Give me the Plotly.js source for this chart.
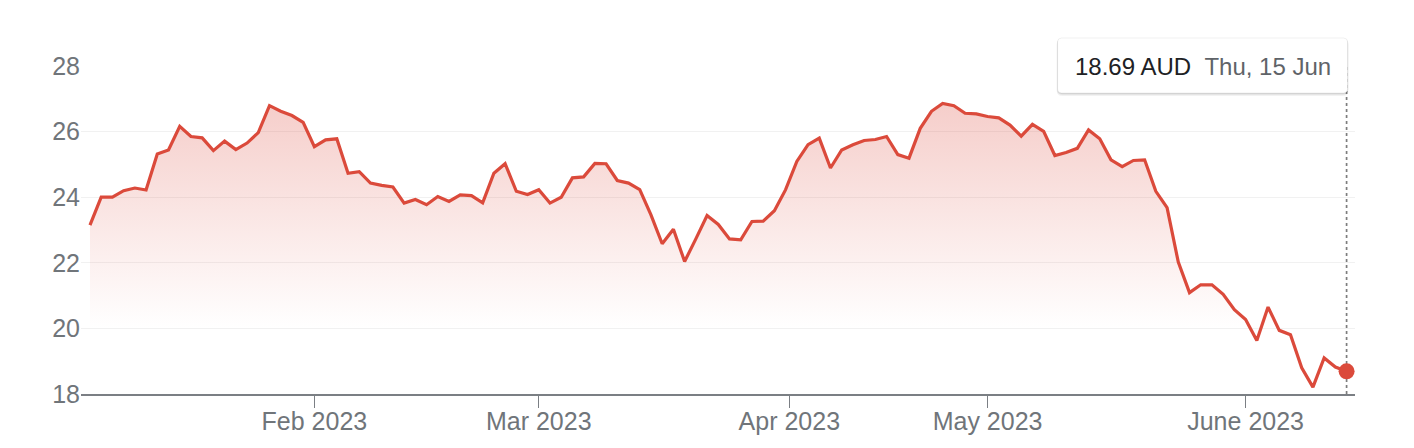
<!DOCTYPE html>
<html>
<head>
<meta charset="utf-8">
<script src="https://cdn.plot.ly/plotly-3.0.1.min.js"></script>
<style>
  html, body { margin: 0; padding: 0; background: #ffffff; }
  #chart { width: 1414px; height: 448px; }
</style>
</head>
<body>
<div id="chart"></div>
<script>
// ---- Data (ASX trading days, Jan 3 – Jun 15 2023) ----
const dates = [
  '2023-01-03','2023-01-04','2023-01-05','2023-01-06','2023-01-09','2023-01-10','2023-01-11','2023-01-12','2023-01-13',
  '2023-01-16','2023-01-17','2023-01-18','2023-01-19','2023-01-20','2023-01-23','2023-01-24','2023-01-25','2023-01-27',
  '2023-01-30','2023-01-31',
  '2023-02-01','2023-02-02','2023-02-03','2023-02-06','2023-02-07','2023-02-08','2023-02-09','2023-02-10','2023-02-13',
  '2023-02-14','2023-02-15','2023-02-16','2023-02-17','2023-02-20','2023-02-21','2023-02-22','2023-02-23','2023-02-24',
  '2023-02-27','2023-02-28',
  '2023-03-01','2023-03-02','2023-03-03','2023-03-06','2023-03-07','2023-03-08','2023-03-09','2023-03-10','2023-03-13',
  '2023-03-14','2023-03-15','2023-03-16','2023-03-17','2023-03-20','2023-03-21','2023-03-22','2023-03-23','2023-03-24',
  '2023-03-27','2023-03-28','2023-03-29','2023-03-30','2023-03-31',
  '2023-04-03','2023-04-04','2023-04-05','2023-04-06','2023-04-11','2023-04-12','2023-04-13','2023-04-14','2023-04-17',
  '2023-04-18','2023-04-19','2023-04-20','2023-04-21','2023-04-24','2023-04-26','2023-04-27','2023-04-28',
  '2023-05-01','2023-05-02','2023-05-03','2023-05-04','2023-05-05','2023-05-08','2023-05-09','2023-05-10','2023-05-11',
  '2023-05-12','2023-05-15','2023-05-16','2023-05-17','2023-05-18','2023-05-19','2023-05-22','2023-05-23','2023-05-24',
  '2023-05-25','2023-05-26','2023-05-29','2023-05-30','2023-05-31',
  '2023-06-01','2023-06-02','2023-06-05','2023-06-06','2023-06-07','2023-06-08','2023-06-09','2023-06-13','2023-06-14',
  '2023-06-15'
];

const prices = [
  23.15, 24.00, 24.00, 24.20, 24.28, 24.22, 25.32, 25.44, 26.16, 25.85,
  25.81, 25.42, 25.71, 25.45, 25.65, 25.97, 26.79, 26.62, 26.49, 26.28,
  25.54, 25.75, 25.78, 24.73, 24.78, 24.43, 24.36, 24.31, 23.82, 23.93,
  23.77, 24.02, 23.87, 24.07, 24.05, 23.83, 24.73, 25.02, 24.18, 24.08,
  24.23, 23.82, 24.00, 24.59, 24.62, 25.03, 25.02, 24.51, 24.43, 24.23,
  23.46, 22.58, 23.02, 22.04, 22.73, 23.44, 23.17, 22.73, 22.70, 23.26,
  23.27, 23.59, 24.23, 25.09, 25.60, 25.80, 24.89, 25.44, 25.60, 25.73,
  25.76, 25.85, 25.30, 25.19, 26.10, 26.62, 26.86, 26.79, 26.56, 26.54,
  26.46, 26.42, 26.20, 25.86, 26.22, 26.01, 25.27, 25.36, 25.49, 26.05,
  25.78, 25.14, 24.93, 25.12, 25.14, 24.18, 23.68, 22.02, 21.09, 21.33,
  21.33, 21.04, 20.57, 20.27, 19.63, 20.65, 19.94, 19.81, 18.80, 18.21,
  19.10, 18.82, 18.69
];

const monthTickDates = ['2023-02-01', '2023-03-01', '2023-04-01', '2023-05-01', '2023-06-01'];
const monthTickLabels = ['Feb 2023', 'Mar 2023', 'Apr 2023', 'May 2023', 'June 2023'];
const yTickValues = [18, 20, 22, 24, 26, 28];
const currency = 'AUD';
const weekdayNames = ['Sun', 'Mon', 'Tue', 'Wed', 'Thu', 'Fri', 'Sat'];
const monthNames = ['Jan', 'Feb', 'Mar', 'Apr', 'May', 'Jun', 'Jul', 'Aug', 'Sep', 'Oct', 'Nov', 'Dec'];

// ---- Helpers ----
const RED = '#db4a3b';
const GREY = '#70757a';
const FONT = '"Liberation Sans", Arial, Helvetica, sans-serif';

function ts(s) { return Date.parse(s + 'T00:00:00Z'); }
const idx = dates.map((d, i) => i);
const last = dates.length - 1;

// position of a calendar date on the trading-day index axis (linear between sessions)
function posOf(ds) {
  const t = ts(ds);
  for (let i = 0; i < dates.length - 1; i++) {
    const a = ts(dates[i]), b = ts(dates[i + 1]);
    if (t >= a && t <= b) return i + (t - a) / (b - a);
  }
  return t < ts(dates[0]) ? 0 : last;
}
const tickPositions = monthTickDates.map(posOf);

const lastD = new Date(ts(dates[last]));
const tipDate = weekdayNames[lastD.getUTCDay()] + ', ' + lastD.getUTCDate() + ' ' + monthNames[lastD.getUTCMonth()];
const tipText = '<span style="color:#202124">' + prices[last].toFixed(2) + ' ' + currency + '</span>' +
                '\u00a0\u00a0<span style="color:#5f6368">' + tipDate + '</span>';

function rr(x0, y0, x1, y1, r) {
  return `M${x0 + r},${y0} L${x1 - r},${y0} Q${x1},${y0} ${x1},${y0 + r} L${x1},${y1 - r} ` +
         `Q${x1},${y1} ${x1 - r},${y1} L${x0 + r},${y1} Q${x0},${y1} ${x0},${y1 - r} ` +
         `L${x0},${y0 + r} Q${x0},${y0} ${x0 + r},${y0} Z`;
}

// ---- Traces ----
const lineTrace = {
  x: idx, y: prices, type: 'scatter', mode: 'lines',
  line: { color: RED, width: 3.2 },
  fill: 'tozeroy',
  fillgradient: {
    type: 'vertical',
    colorscale: [[0, 'rgba(220,75,62,0)'], [1, 'rgba(220,75,62,0.28)']],
    start: 20, stop: 27
  },
  hoverinfo: 'skip'
};

const dotTrace = {
  x: [idx[last]], y: [prices[last]], type: 'scatter', mode: 'markers',
  marker: { color: RED, size: 16, line: { width: 0 } },
  cliponaxis: false, hoverinfo: 'skip'
};

// ---- Layout ----
const layout = {
  width: 1414, height: 448,
  margin: { l: 81, r: 59, t: 66, b: 54 },
  paper_bgcolor: '#ffffff', plot_bgcolor: '#ffffff',
  showlegend: false, hovermode: false,
  font: { family: FONT, color: GREY, size: 25 },
  xaxis: {
    range: [-0.8, 112.75],
    tickmode: 'array', tickvals: tickPositions, ticktext: monthTickLabels,
    showgrid: false, zeroline: false,
    showline: true, linecolor: '#7b7f84', linewidth: 1.6,
    ticks: 'outside', ticklen: 12, tickwidth: 1.3, tickcolor: '#7b7f84',
    ticklabelstandoff: -8,
    tickfont: { family: FONT, size: 25, color: GREY },
    fixedrange: true
  },
  yaxis: {
    range: [18, 28],
    tickmode: 'array', tickvals: yTickValues,
    showgrid: true, gridcolor: '#f1f1f1', gridwidth: 1.3,
    zeroline: false, showline: false, ticks: '',
    tickfont: { family: FONT, size: 25, color: GREY },
    fixedrange: true
  },
  shapes: [
    { type: 'line', xref: 'x', yref: 'paper', x0: idx[last], x1: idx[last], y0: 0, y1: 1,
      line: { color: '#7d7d7d', width: 1.7, dash: 'dot' }, layer: 'between' },
    { type: 'path', xref: 'x', yref: 'paper', xsizemode: 'pixel', ysizemode: 'pixel',
      xanchor: idx[last], yanchor: 1, path: rr(-290, -30, 2, 27, 6),
      fillcolor: 'rgba(0,0,0,0.05)', line: { width: 0 }, layer: 'above' },
    { type: 'path', xref: 'x', yref: 'paper', xsizemode: 'pixel', ysizemode: 'pixel',
      xanchor: idx[last], yanchor: 1, path: rr(-289.5, -28.5, 1.5, 27.5, 5),
      fillcolor: 'rgba(0,0,0,0.10)', line: { width: 0 }, layer: 'above' },
    { type: 'path', xref: 'x', yref: 'paper', xsizemode: 'pixel', ysizemode: 'pixel',
      xanchor: idx[last], yanchor: 1, path: rr(-289, -27, 1, 28, 4),
      fillcolor: '#ffffff', line: { color: 'rgba(0,0,0,0.06)', width: 1 }, layer: 'above' }
  ],
  annotations: [
    { x: idx[last], xref: 'x', y: 1, yref: 'paper', xanchor: 'center', yanchor: 'middle',
      xshift: -144, yshift: 0, showarrow: false, text: tipText,
      font: { family: FONT, size: 24, color: '#202124' } }
  ]
};

Plotly.newPlot('chart', [lineTrace, dotTrace], layout, { staticPlot: true, displayModeBar: false });
</script>
</body>
</html>
